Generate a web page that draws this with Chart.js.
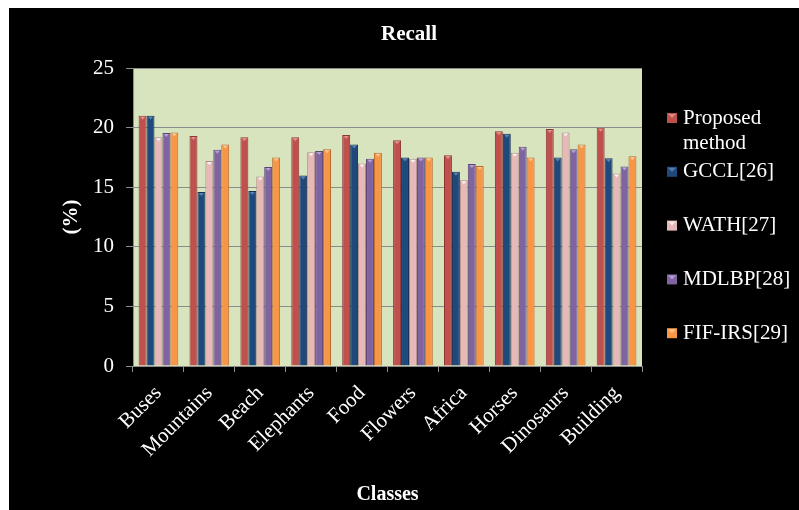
<!DOCTYPE html>
<html>
<head>
<meta charset="utf-8">
<title>Recall</title>
<script src="https://cdn.jsdelivr.net/npm/chart.js@4/dist/chart.umd.min.js"></script>
<style>
  html, body { margin: 0; padding: 0; background: #ffffff; }
  #frame { position: absolute; left: 9px; top: 8px; width: 790px; height: 502px; background: #000000; }
  canvas { display: block; }
</style>
</head>
<body>
<div id="frame"><canvas id="chart" width="790" height="502"></canvas></div>
<script>
// Recall (%) per image class for each retrieval method
const classes = ['Buses', 'Mountains', 'Beach', 'Elephants', 'Food', 'Flowers', 'Africa', 'Horses', 'Dinosaurs', 'Building'];
const seriesNames = ['Proposed method', 'GCCL[26]', 'WATH[27]', 'MDLBP[28]', 'FIF-IRS[29]'];
const proposed = [21.0, 19.3, 19.2, 19.2, 19.4, 18.95, 17.7, 19.7, 19.9, 20.0];
const gccl     = [21.0, 14.6, 14.7, 16.0, 18.6, 17.5, 16.3, 19.5, 17.5, 17.45];
const wath     = [19.2, 17.2, 15.9, 17.95, 17.0, 17.4, 15.6, 17.9, 19.6, 16.15];
const mdlbp    = [19.55, 18.15, 16.7, 18.05, 17.4, 17.5, 16.95, 18.4, 18.2, 16.75];
const fifirs   = [19.6, 18.6, 17.5, 18.2, 17.9, 17.5, 16.8, 17.5, 18.6, 17.6];
const yTicks = [0, 5, 10, 15, 20, 25];

const fills   = ['#c0504d', '#1f497d', '#e6b9b8', '#8064a2', '#f79646'];
const borders = ['#8c3836', '#14304f', '#b08887', '#5a4572', '#b86c2e'];
const caps    = ['#e8a09e', '#6f8fc0', '#ffffff', '#c4b1dc', '#ffd1a6'];

const FONT = "'Liberation Serif', 'Times New Roman', serif";
Chart.defaults.font.family = FONT;
Chart.defaults.color = '#ffffff';

// Green plot background
const plotBackground = {
  id: 'plotBackground',
  beforeDraw(chart) {
    const { ctx, chartArea: a } = chart;
    ctx.save();
    ctx.fillStyle = '#d7e4bd';
    ctx.fillRect(a.left, a.top, a.right - a.left, a.bottom - a.top);
    ctx.restore();
  }
};

// Small light bevel cap on top of each bar
const barCaps = {
  id: 'barCaps',
  afterDatasetsDraw(chart) {
    const ctx = chart.ctx;
    ctx.save();
    chart.data.datasets.forEach((ds, i) => {
      const meta = chart.getDatasetMeta(i);
      meta.data.forEach(bar => {
        const w = bar.width;
        ctx.fillStyle = caps[i];
        ctx.globalAlpha = 0.8;
        ctx.beginPath();
        ctx.moveTo(bar.x - w / 2 + 1.5, bar.y + 1);
        ctx.lineTo(bar.x + w / 2 - 1.5, bar.y + 1);
        ctx.lineTo(bar.x, bar.y + 4);
        ctx.closePath();
        ctx.fill();
      });
    });
    ctx.restore();
  }
};

// Legend to the right of the plot, names wrapped to a fixed width
const sideLegend = {
  id: 'sideLegend',
  afterDraw(chart) {
    const { ctx, chartArea: a } = chart;
    const x0 = a.right + 25;
    const textX = x0 + 16;
    const maxW = 118;
    ctx.save();
    ctx.font = '21px ' + FONT;
    ctx.textBaseline = 'middle';
    ctx.textAlign = 'left';
    chart.data.datasets.forEach((ds, i) => {
      const y = 110 + 53.8 * i;
      const words = ds.label.split(' ');
      const lines = [];
      let cur = '';
      words.forEach(wd => {
        const test = cur ? cur + ' ' + wd : wd;
        if (ctx.measureText(test).width > maxW && cur) { lines.push(cur); cur = wd; }
        else cur = test;
      });
      lines.push(cur);
      ctx.fillStyle = ds.backgroundColor;
      ctx.fillRect(x0, y - 5, 10, 10);
      ctx.fillStyle = caps[i];
      ctx.globalAlpha = 0.7;
      ctx.beginPath();
      ctx.moveTo(x0 + 1, y - 4);
      ctx.lineTo(x0 + 9, y - 4);
      ctx.lineTo(x0 + 5, y);
      ctx.closePath();
      ctx.fill();
      ctx.globalAlpha = 1;
      ctx.fillStyle = '#ffffff';
      lines.forEach((ln, k) => ctx.fillText(ln, textX, y + 25 * k));
    });
    ctx.restore();
  }
};

const seriesValues = [proposed, gccl, wath, mdlbp, fifirs];

new Chart(document.getElementById('chart'), {
  type: 'bar',
  data: {
    labels: classes,
    datasets: seriesNames.map((name, i) => ({
      label: name,
      data: seriesValues[i],
      backgroundColor: fills[i],
      borderColor: borders[i],
      borderWidth: 1,
      borderSkipped: 'bottom',
      categoryPercentage: 0.78,
      barPercentage: 1.0
    }))
  },
  options: {
    responsive: false,
    animation: false,
    layout: { padding: { left: 10, right: 0, top: 0, bottom: 0 } },
    plugins: {
      legend: { display: false },
      tooltip: { enabled: false },
      title: {
        display: true,
        text: 'Recall',
        color: '#ffffff',
        font: { size: 21, weight: 'bold', family: FONT },
        padding: { top: 14, bottom: 21 }
      }
    },
    scales: {
      x: {
        grid: { display: true, drawOnChartArea: false, drawTicks: true, tickLength: 6, color: '#8c8c8c' },
        border: { display: true, color: '#8c8c8c' },
        ticks: { color: '#ffffff', font: { size: 21, family: FONT }, minRotation: 45, maxRotation: 45, padding: 9, autoSkip: false },
        title: { display: true, text: 'Classes', color: '#ffffff', font: { size: 20, weight: 'bold', family: FONT }, padding: { top: 0, bottom: 3 } },
        afterFit(scale) { scale.height = 144; }
      },
      y: {
        min: 0,
        max: 25,
        afterBuildTicks(scale) { scale.ticks = yTicks.map(v => ({ value: v })); },
        grid: { color: '#8c8c8c', tickLength: 7, drawTicks: true },
        border: { display: true, color: '#8c8c8c' },
        ticks: { color: '#ffffff', font: { size: 21, family: FONT }, padding: 12 },
        title: { display: true, text: '(%)', color: '#ffffff', font: { size: 21, weight: 'bold', family: FONT }, padding: { top: 40, bottom: 0 } },
        afterFit(scale) { scale.width = 114; }
      },
      // empty right-hand axis that reserves room for the side legend
      legendSpace: {
        position: 'right',
        min: 0,
        max: 25,
        ticks: { display: false },
        grid: { display: false },
        border: { display: false },
        afterFit(scale) { scale.width = 157; }
      }
    }
  },
  plugins: [plotBackground, barCaps, sideLegend]
});
</script>
</body>
</html>
